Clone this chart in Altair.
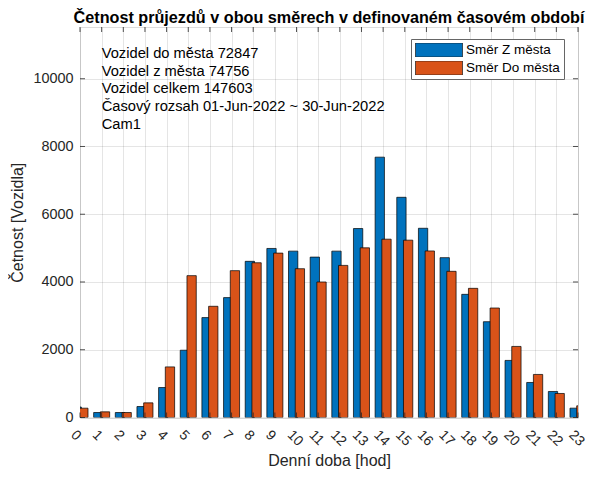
import altair as alt
import pandas as pd

# ---- data ----
hours = list(range(24))
z_mesta = [310, 147, 147, 324, 885, 1986, 2949, 3539, 4610, 4990, 4911, 4735,
           4911, 5578, 7685, 6500, 5586, 4719, 3636, 2828, 1685, 1034, 768, 276]
do_mesta = [275, 167, 147, 432, 1494, 4188, 3283, 4335, 4568, 4853, 4392, 4000,
            4490, 5009, 5264, 5235, 4916, 4315, 3813, 3232, 2098, 1271, 709, 345]
series = ["Směr Z města", "Směr Do města"]
colors = ["#0072BD", "#D95319"]
y_ticks = [0, 2000, 4000, 6000, 8000, 10000]
info_lines = ["Vozidel do města 72847", "Vozidel z města 74756", "Vozidel celkem 147603",
              "Časový rozsah 01-Jun-2022 ~ 30-Jun-2022", "Cam1"]
title_text = "Četnost průjezdů v obou směrech v definovaném časovém období"
x_title = "Denní doba [hod]"
y_title = "Četnost [Vozidla]"

# ---- layout / style ----
W, H = 498, 390.5
FONT = "Liberation Sans"
AX = "#262626"
OFF, BW = 0.155, 0.43
y_max = 1.5 * max(z_mesta + do_mesta)
TL = 5

rows = []
for i, (name, vals) in enumerate([(series[0], z_mesta), (series[1], do_mesta)]):
    for h, v in zip(hours, vals):
        rows.append({"hour": h, "value": v, "series": name, "idx": i})
df = pd.DataFrame(rows)

xscale = alt.Scale(domain=[0, 23], nice=False, zero=False)
yscale = alt.Scale(domain=[0, y_max], nice=False)

xaxis = alt.Axis(values=hours, title=x_title, format="d", labelAngle=45, labelAlign="left",
                 labelBaseline="top", labelPadding=10, labelOffset=-2.5, ticks=False, tickSize=0,
                 domain=False, grid=True, gridColor=AX, gridOpacity=0.12, labelFont=FONT,
                 labelFontSize=14, labelColor=AX, labelFlush=False, labelOverlap=False,
                 titleFont=FONT, titleFontSize=16, titleFontWeight="normal", titleColor=AX,
                 titleY=42.5, titleBaseline="middle", titleAlign="center", titleX=W / 2)
yaxis = alt.Axis(values=y_ticks, title=y_title, format="d", ticks=False, tickSize=0, domain=False,
                 grid=True, gridColor=AX, gridOpacity=0.12, labelFont=FONT, labelFontSize=14.4,
                 labelColor=AX, labelPadding=7, titleFont=FONT, titleFontSize=16,
                 titleFontWeight="normal", titleColor=AX, titleX=-63, titleY=H / 2,
                 titleAlign="center", titleBaseline="middle", titleAngle=270)

legend = alt.Legend(title=None, orient="none", legendX=331, legendY=12,
                    symbolType="M-1,-0.298H1V0.298H-1Z", symbolSize=2209,
                    symbolStrokeColor="#1a1a1a", symbolStrokeWidth=0.7, symbolOpacity=1,
                    labelFont=FONT, labelFontSize=13.5, labelColor="#000", labelOffset=3,
                    padding=4, rowPadding=4, clipHeight=14, strokeColor="#666",
                    fillColor="white")

bars = alt.Chart(df).transform_calculate(
    xa=f"datum.hour + (datum.idx == 0 ? -{OFF} : {OFF}) - {BW / 2}",
    xb=f"datum.hour + (datum.idx == 0 ? -{OFF} : {OFF}) + {BW / 2}",
).mark_rect(clip=True, stroke="#000", strokeWidth=0.7).encode(
    x=alt.X("xa:Q", scale=xscale, axis=xaxis),
    x2="xb:Q",
    y=alt.Y("value:Q", scale=yscale, axis=yaxis),
    y2=alt.datum(0),
    fill=alt.Fill("series:N", scale=alt.Scale(domain=series, range=colors), legend=legend),
)

xt = pd.DataFrame({"hour": hours})
yt = pd.DataFrame({"v": y_ticks})
rule = dict(color=AX, strokeWidth=0.8)
top_ticks = alt.Chart(xt).mark_rule(**rule).encode(
    x=alt.X("hour:Q", scale=xscale, axis=xaxis), y=alt.value(0), y2=alt.value(TL))
bot_ticks = alt.Chart(xt).mark_rule(**rule).encode(
    x=alt.X("hour:Q", scale=xscale, axis=xaxis), y=alt.value(H), y2=alt.value(H - TL))
left_ticks = alt.Chart(yt).mark_rule(**rule).encode(
    y=alt.Y("v:Q", scale=yscale, axis=yaxis), x=alt.value(0), x2=alt.value(TL))
right_ticks = alt.Chart(yt).mark_rule(**rule).encode(
    y=alt.Y("v:Q", scale=yscale, axis=yaxis), x=alt.value(W - TL), x2=alt.value(W))

info = alt.Chart(pd.DataFrame({"t": ["\n".join(info_lines)]})).mark_text(
    align="left", baseline="top", font=FONT, fontSize=14.7, color="#000",
    lineBreak="\n", lineHeight=17.7).encode(
    text="t:N", x=alt.value(21.7), y=alt.value(19))

chart = alt.layer(bars, top_ticks, bot_ticks, left_ticks, right_ticks, info).properties(
    width=W, height=H,
    autosize=alt.AutoSizeParams(type="none"),
    padding={"left": 72, "top": 19, "right": 10, "bottom": 51.5},
    title=alt.TitleParams(text=title_text, font=FONT, fontSize=16.2, fontWeight="bold",
                          color="#000", anchor="middle", frame="group", offset=0),
).configure_view(stroke="#555", strokeWidth=1).configure(background="white")

chart.save("out.html", embed_options={"renderer": "svg", "actions": False})
